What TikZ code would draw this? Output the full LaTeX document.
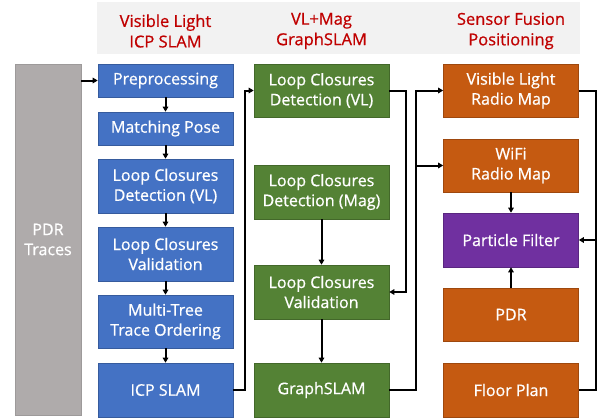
\documentclass[tikz,border=0pt]{standalone}
\usepackage{fontspec}
\setmainfont{Open Sans}[FakeBold=0.7]
\usetikzlibrary{arrows.meta}
\definecolor{cblue}{HTML}{4472C4}
\definecolor{cgreen}{HTML}{548235}
\definecolor{corange}{HTML}{C55A11}
\definecolor{cpurple}{HTML}{7030A0}
\definecolor{cgray}{HTML}{AFABAB}
\definecolor{chead}{HTML}{F2F2F2}
\definecolor{cred}{HTML}{C00000}
\tikzset{
  box/.style={draw=#1!80!black, line width=0.6pt, fill=#1, text=white, inner sep=0pt, align=center,
    font=\fontsize{16}{20}\selectfont, minimum width=135pt},
  head/.style={text=cred, align=center, font=\fontsize{16.5}{20.5}\selectfont},
  arr/.style={line width=2pt, -{Triangle[length=5pt,width=5.5pt]}},
  ln/.style={line width=2pt}
}
\begin{document}
\begin{tikzpicture}[x=1pt,y=-1pt]
\useasboundingbox (0,0) rectangle (602,420);
\fill[chead] (97,2) rectangle (580,54);
\node[head] (h1) at (165.5,31) {Visible Light\\ICP SLAM};
\node[head] (h2) at (321.5,31) {VL+Mag\\GraphSLAM};
\node[head] (h3) at (511,31) {Sensor Fusion\\Positioning};
% PDR traces
\node[box=cgray, draw=cgray!90!black, minimum width=66pt, minimum height=351pt] (pdr) at (48,239.5) {PDR\\Traces};
% blue column
\node[box=cblue, minimum height=33pt] (b1) at (165.5,80.5) {Preprocessing};
\node[box=cblue, minimum height=33pt] (b2) at (165.5,128.5) {Matching Pose};
\node[box=cblue, minimum height=54pt] (b3) at (165.5,186) {Loop Closures\\Detection (VL)};
\node[box=cblue, minimum height=54pt] (b4) at (165.5,254) {Loop Closures\\Validation};
\node[box=cblue, minimum height=53pt] (b5) at (165.5,321.5) {Multi-Tree\\Trace Ordering};
\node[box=cblue, minimum height=54pt] (b6) at (165.5,390) {ICP SLAM};
% green column
\node[box=cgreen, minimum height=53pt] (g1) at (321.5,90.5) {Loop Closures\\Detection (VL)};
\node[box=cgreen, minimum height=54pt] (g2) at (321.5,192) {Loop Closures\\Detection (Mag)};
\node[box=cgreen, minimum height=54pt] (g3) at (321.5,292) {Loop Closures\\Validation};
\node[box=cgreen, minimum height=54pt] (g4) at (321.5,390) {GraphSLAM};
% orange column
\node[box=corange, minimum height=53pt] (o1) at (511,90.5) {Visible Light\\Radio Map};
\node[box=corange, minimum height=53pt] (o2) at (511,165.5) {WiFi\\Radio Map};
\node[box=cpurple, minimum height=54pt] (pf) at (511,240) {Particle Filter};
\node[box=corange, minimum height=53pt] (o4) at (511,314.5) {PDR};
\node[box=corange, minimum height=54pt] (o5) at (511,390) {Floor Plan};
% connectors
\draw[arr] (pdr.east |- b1.west) -- (b1.west);
\draw[arr] (b1) -- (b2);
\draw[arr] (b2) -- (b3);
\draw[arr] (b3) -- (b4);
\draw[arr] (b4) -- (b5);
\draw[arr] (b5) -- (b6);
\draw[arr] (b6.east) -- ++(12,0) |- (g1.west);
\draw[arr] (g1.east) -- ++(17,0) |- (g3.east);
\draw[arr] (g2) -- (g3);
\draw[arr] (g3) -- (g4);
\draw[arr] (g4.east) -- ++(27,0) coordinate (j) |- (o1.west);
\draw[arr] (j) |- (o2.west);
\draw[ln] (o1.east) -- ++(17,0) coordinate (k) |- (o5.east);
\draw[arr] (k |- pf.east) -- (pf.east);
\draw[arr] (o2) -- (pf);
\draw[arr] (o4) -- (pf);
\end{tikzpicture}
\end{document}
